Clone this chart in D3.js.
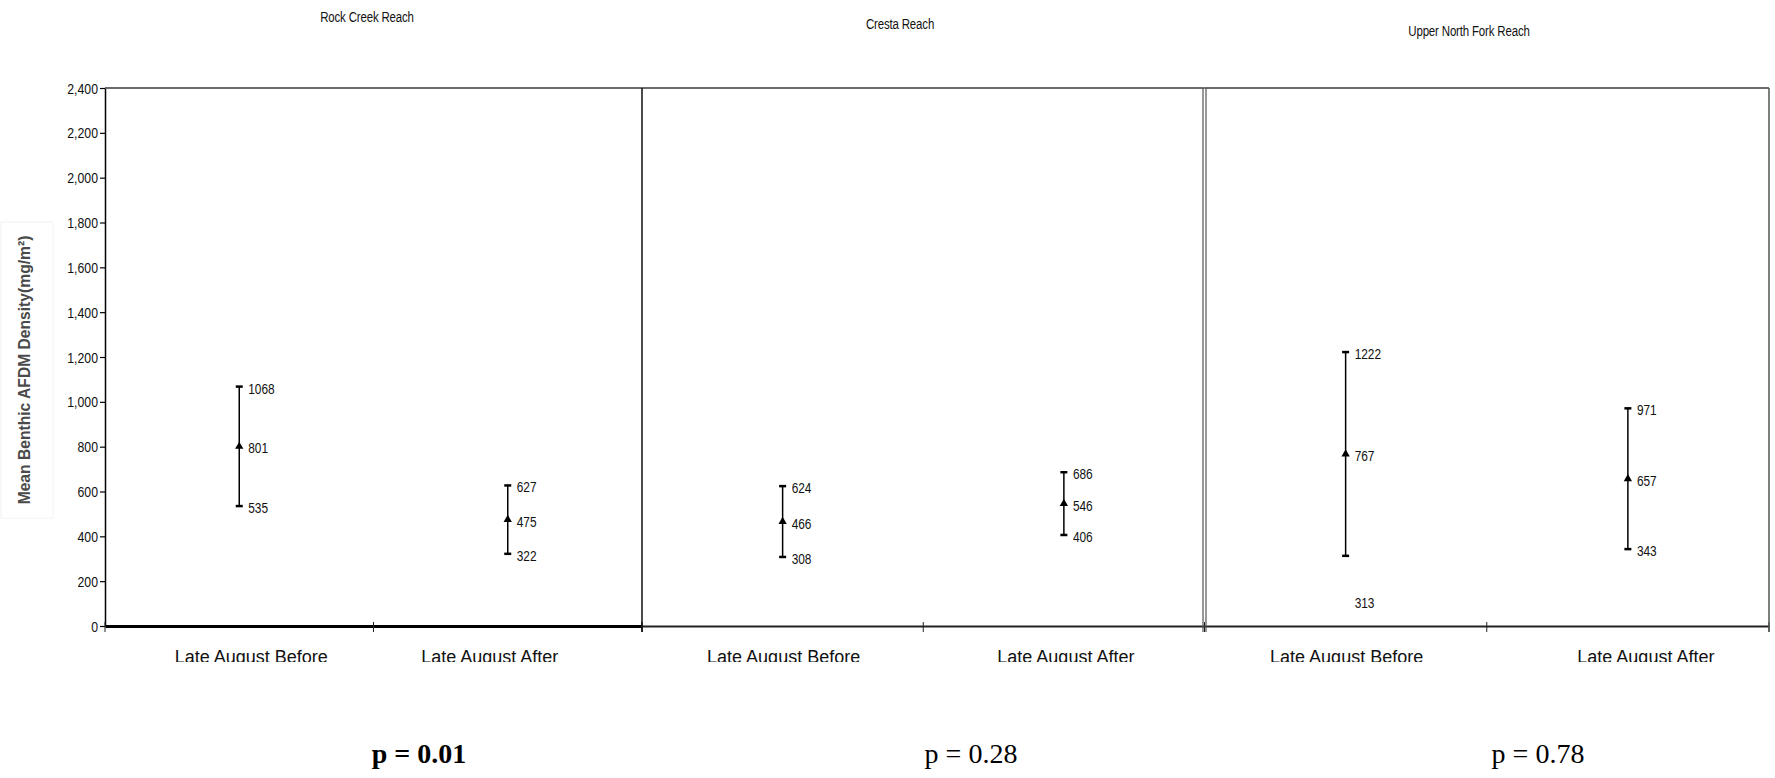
<!DOCTYPE html>
<html>
<head>
<meta charset="utf-8">
<script src="https://cdn.jsdelivr.net/npm/d3@7"></script>
<style>
  html, body { margin: 0; padding: 0; background: #fff; }
  svg { display: block; }
</style>
</head>
<body>
<svg id="chart" width="1775" height="778"></svg>
<script>
// ---------------- DATA ----------------
const panels = ["Rock Creek Reach", "Cresta Reach", "Upper North Fork Reach"];
const categories = ["Late August Before", "Late August After"];
const meanValues  = [[801, 475], [466, 546], [767, 657]];
const upperValues = [[1068, 627], [624, 686], [1222, 971]];
const lowerValues = [[535, 322], [308, 406], [313, 343]];
const yTicks = [0, 200, 400, 600, 800, 1000, 1200, 1400, 1600, 1800, 2000, 2200, 2400];
const pLabels = ["p = 0.01", "p = 0.28", "p = 0.78"];
const pBold = [true, false, false];
const yTitle = "Mean Benthic AFDM Density(mg/m²)";

// ---------------- LAYOUT ----------------
(function () {
const svg = d3.select("#chart");
const W = 1775, H = 778;
const plotTop = 88, plotBottom = 626;
const panelEdges = [105, 642, 1204.5, 1769];
const titleCenters = [367, 900, 1469];
const titleBaselines = [22, 29, 36];
const pCenters = [419, 971, 1538];
const catShift = [[12, -18], [1, 2], [1, 18]];
const narrowScale = 0.82;
const sans = "'Liberation Sans', Arial, sans-serif";
const serif = "'Liberation Serif', 'Times New Roman', serif";

// condensed text: horizontal squeeze around its anchor point
function narrowText(sel, px, py) {
  sel.attr("x", 0).attr("y", 0)
    .attr("transform", (d, i) => {
      const xx = typeof px === "function" ? px(d, i) : px;
      const yy = typeof py === "function" ? py(d, i) : py;
      return `translate(${xx},${yy}) scale(${narrowScale},1)`;
    })
    .attr("font-family", sans);
}

const y = d3.scaleLinear().domain([0, 2400]).range([plotBottom, plotTop]);

// clip for category labels (bottom of text cut as in original)
svg.append("defs").append("clipPath").attr("id", "catclip")
  .append("rect").attr("x", 0).attr("y", 0).attr("width", W).attr("height", 662);

// Y axis title with faint box
svg.append("rect").attr("x", 1).attr("y", 222).attr("width", 52).attr("height", 296)
  .attr("fill", "none").attr("stroke", "#f2f2f2").attr("stroke-width", 1);
svg.append("text")
  .attr("transform", "translate(30,370) rotate(-90) scale(0.92,1)")
  .attr("text-anchor", "middle")
  .attr("font-family", sans).attr("font-weight", "bold").attr("font-size", 17)
  .attr("fill", "#4a4a4a")
  .text(yTitle);

// Y axis
const yAxis = d3.axisLeft(y).tickValues(yTicks).tickFormat(d3.format(",")).tickSize(5).tickSizeOuter(0);
const ya = svg.append("g").attr("transform", `translate(${panelEdges[0]},0)`).call(yAxis);
ya.select(".domain").attr("stroke", "#000").attr("stroke-width", 1.5);
ya.selectAll(".tick line").attr("stroke", "#000").attr("stroke-width", 1.2);
ya.selectAll(".tick text").attr("font-size", 15).attr("fill", "#111").attr("dy", "0.34em")
  .call(narrowText, -7, 0);

panels.forEach((name, i) => {
  const x0 = panelEdges[i], x1 = panelEdges[i + 1];
  const x = d3.scaleBand().domain(categories).range([x0, x1]).padding(0);
  const g = svg.append("g");

  // top border
  g.append("line").attr("x1", x0).attr("x2", x1).attr("y1", plotTop).attr("y2", plotTop)
    .attr("stroke", "#3a3a3a").attr("stroke-width", 1.5);

  // bottom axis
  const xa = d3.axisBottom(x).tickSize(0).tickFormat("");
  const ga = g.append("g").attr("transform", `translate(0,${plotBottom})`).call(xa);
  ga.select(".domain").attr("stroke", i === 0 ? "#000" : "#222")
    .attr("stroke-width", i === 0 ? 3 : 1.8);
  // tick marks at band boundaries
  const bounds = [x0, x(categories[1]), x1];
  g.selectAll(".xt").data(bounds).join("line")
    .attr("x1", d => d).attr("x2", d => d)
    .attr("y1", plotBottom - 4).attr("y2", plotBottom + 6)
    .attr("stroke", "#222").attr("stroke-width", 1);

  // category labels
  g.selectAll(".cat").data(categories).join("text")
    .attr("clip-path", "url(#catclip)")
    .attr("x", (d, j) => x(d) + x.bandwidth() / 2 + catShift[i][j])
    .attr("y", 663)
    .attr("text-anchor", "middle")
    .attr("font-family", sans).attr("font-size", 18).attr("fill", "#111")
    .text(d => d);

  // title
  g.append("text")
    .attr("text-anchor", "middle")
    .attr("font-size", 14).attr("letter-spacing", -0.2)
    .attr("fill", "#111").text(name)
    .call(narrowText, titleCenters[i], titleBaselines[i]);

  // p-value
  g.append("text").attr("x", pCenters[i]).attr("y", 763)
    .attr("text-anchor", "middle")
    .attr("font-family", serif).attr("font-size", 28)
    .attr("font-weight", pBold[i] ? "bold" : "normal")
    .attr("fill", "#000").text(pLabels[i]);

  // error bars
  const rows = categories.map((c, j) => ({
    c, mean: meanValues[i][j], hi: upperValues[i][j], lo: lowerValues[i][j],
    shiftLow: (i === 2 && j === 0)
  }));
  const cx = d => x(d.c) + x.bandwidth() / 2;

  g.selectAll(".eb").data(rows).join("line")
    .attr("x1", cx).attr("x2", cx)
    .attr("y1", d => y(d.hi)).attr("y2", d => y(d.lo))
    .attr("stroke", "#000").attr("stroke-width", 1.5);
  ["hi", "lo"].forEach(k => {
    g.selectAll(".cap" + k).data(rows).join("line")
      .attr("x1", d => cx(d) - 3.5).attr("x2", d => cx(d) + 3.5)
      .attr("y1", d => y(d[k])).attr("y2", d => y(d[k]))
      .attr("stroke", "#000").attr("stroke-width", 2.5);
  });
  g.selectAll(".mk").data(rows).join("path")
    .attr("d", d3.symbol(d3.symbolTriangle, 30))
    .attr("transform", d => `translate(${cx(d)},${y(d.mean)})`)
    .attr("fill", "#000");

  // value labels
  const labs = [];
  rows.forEach(d => {
    labs.push({ x: cx(d), v: d.hi, dy: 0 });
    labs.push({ x: cx(d), v: d.mean, dy: 0 });
    labs.push({ x: cx(d), v: d.lo, dy: d.shiftLow ? 45 : 0 });
  });
  g.selectAll(".vl").data(labs).join("text")
    .attr("font-size", 14.5).attr("fill", "#111")
    .text(d => d.v)
    .call(narrowText, d => d.x + 9, d => y(d.v) + 7 + d.dy);
});

// panel dividers
svg.append("line").attr("x1", panelEdges[1]).attr("x2", panelEdges[1])
  .attr("y1", plotTop).attr("y2", plotBottom + 6).attr("stroke", "#111").attr("stroke-width", 1.5);
[panelEdges[2] - 1.5, panelEdges[2] + 1.5].forEach(xx => {
  svg.append("line").attr("x1", xx).attr("x2", xx)
    .attr("y1", plotTop).attr("y2", plotBottom + 6).attr("stroke", "#555").attr("stroke-width", 1.2);
});
svg.append("line").attr("x1", panelEdges[3]).attr("x2", panelEdges[3])
  .attr("y1", plotTop).attr("y2", plotBottom + 6).attr("stroke", "#555").attr("stroke-width", 1.5);
})();
</script>
</body>
</html>
